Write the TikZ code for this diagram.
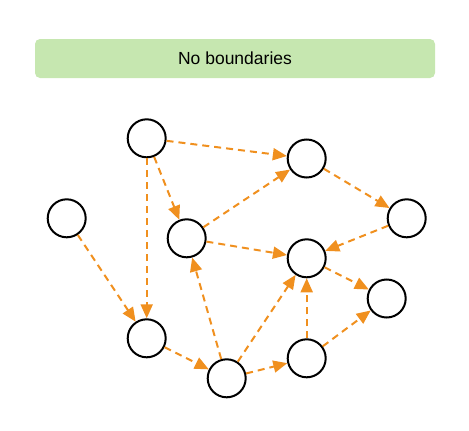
\documentclass[tikz,border=0pt]{standalone}
\usepackage{fontspec}
\setmainfont{Liberation Sans}
\usetikzlibrary{arrows.meta}
\definecolor{edgeorange}{HTML}{F0901F}
\definecolor{bannergreen}{HTML}{C6E7B0}
\begin{document}
\begin{tikzpicture}[x=1pt,y=-1pt,
  vnode/.style={circle,draw=black,line width=2pt,minimum size=38pt,inner sep=0pt,outer sep=1pt,fill=white},
  link/.style={draw=edgeorange,line width=2pt,dash pattern=on 7pt off 5pt,
    -{Triangle[length=14pt,width=12pt,fill=edgeorange]}},
  banner/.style={fill=bannergreen,draw=none,rounded corners=5pt}]
\useasboundingbox (0,0) rectangle (469,431);
\fill[banner] (35,39) rectangle (435,78);
\node[font=\fontsize{17.5pt}{20pt}\selectfont] (title) at (235,58.5) {No boundaries};
\node[vnode] (A) at (146.7,138.3) {};
\node[vnode] (B) at (306.7,158.5) {};
\node[vnode] (C) at (66.7,218.3) {};
\node[vnode] (D) at (186.7,238.3) {};
\node[vnode] (E) at (406.7,218.3) {};
\node[vnode] (F) at (306.7,258.3) {};
\node[vnode] (G) at (386.7,298.5) {};
\node[vnode] (H) at (146.7,338.3) {};
\node[vnode] (I) at (306.7,358.3) {};
\node[vnode] (J) at (226.7,378.3) {};
\path[link] (A) -- (B);
\path[link] (A) -- (D);
\path[link] (A) -- (H);
\path[link] (B) -- (E);
\path[link] (D) -- (B);
\path[link] (D) -- (F);
\path[link] (E) -- (F);
\path[link] (F) -- (G);
\path[link] (C) -- (H);
\path[link] (H) -- (J);
\path[link] (J) -- (D);
\path[link] (J) -- (F);
\path[link] (J) -- (I);
\path[link] (I) -- (F);
\path[link] (I) -- (G);
\end{tikzpicture}
\end{document}
